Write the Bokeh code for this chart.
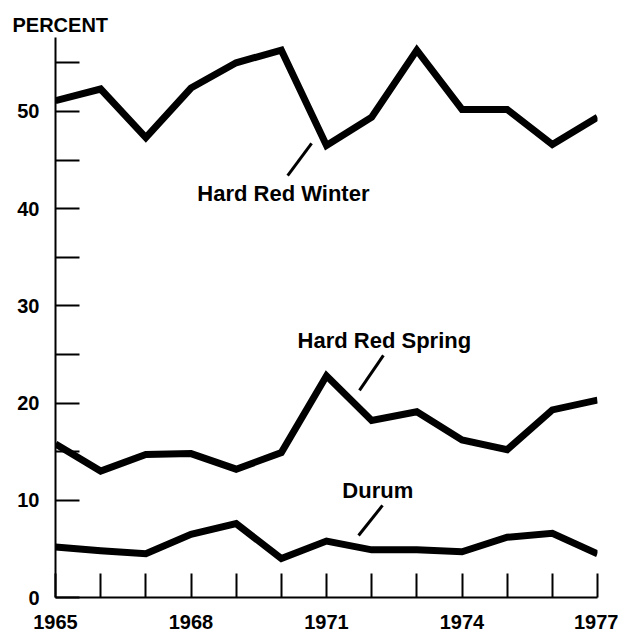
from bokeh.plotting import figure
from bokeh.models import Range1d, FixedTicker, Label
from bokeh.embed import file_html
from bokeh.resources import INLINE

years = list(range(1965, 1978))
hard_red_winter = [51.1, 52.3, 47.3, 52.4, 55.0, 56.3, 46.5, 49.4, 56.3, 50.2, 50.2, 46.6, 49.4]
hard_red_spring = [15.8, 13.0, 14.7, 14.8, 13.2, 14.9, 22.8, 18.2, 19.1, 16.2, 15.2, 19.3, 20.3]
durum = [5.2, 4.8, 4.5, 6.5, 7.6, 4.0, 5.8, 4.9, 4.9, 4.7, 6.2, 6.6, 4.5]

y_ticks = [0, 5, 10, 15, 20, 25, 30, 35, 40, 45, 50, 55]
y_labels = {0: "0", 10: "10", 20: "20", 30: "30", 40: "40", 50: "50"}
x_labels = {1965: "1965", 1968: "1968", 1971: "1971", 1974: "1974", 1977: "1977"}

series_names = ["Hard Red Winter", "Hard Red Spring", "Durum"]
name_pos = [(1968.14, 41.6), (1970.36, 26.4), (1971.35, 11.0)]
leader_from = [(1970.14, 43.4), (1972.26, 24.9), (1972.24, 9.47)]
leader_to = [(1970.67, 46.7), (1971.73, 21.3), (1971.71, 6.38)]

FONT = "Liberation Sans"

p = figure(output_backend="svg", toolbar_location=None,
           x_range=Range1d(1965, 1977), y_range=Range1d(0, 57.6),
           frame_width=542, frame_height=560,
           min_border_left=55, min_border_right=21, min_border_top=37, min_border_bottom=41,
           title="PERCENT")
p.title.align = "left"
p.title.offset = -43
p.title.standoff = 3
p.title.text_font = FONT
p.title.text_font_size = "20px"
p.title.text_font_style = "bold"
p.title.text_color = "black"
p.outline_line_color = None
p.xgrid.visible = False
p.ygrid.visible = False
p.background_fill_color = "white"
p.border_fill_color = "white"

for ax in (p.xaxis[0], p.yaxis[0]):
    ax.axis_line_width = 2
    ax.axis_line_color = "black"
    ax.major_tick_line_width = 2
    ax.major_tick_line_color = "black"
    ax.major_tick_in = 24
    ax.major_tick_out = 0
    ax.minor_tick_line_color = None
    ax.major_label_text_font = FONT
    ax.major_label_text_font_size = "20px"
    ax.major_label_text_font_style = "bold"
    ax.major_label_text_color = "black"

p.yaxis[0].ticker = FixedTicker(ticks=y_ticks)
p.yaxis[0].major_label_overrides = {t: y_labels.get(t, "") for t in y_ticks}
p.yaxis[0].major_label_standoff = 16
p.xaxis[0].ticker = FixedTicker(ticks=years)
p.xaxis[0].major_label_overrides = {t: x_labels.get(t, "") for t in years}
p.xaxis[0].major_label_standoff = 17

for ys in (hard_red_winter, hard_red_spring, durum):
    p.line(years, ys, line_color="black", line_width=7, line_join="miter")

for name, (tx, ty), (fx, fy), (ex, ey) in zip(series_names, name_pos, leader_from, leader_to):
    p.add_layout(Label(x=tx, y=ty, text=name, text_font=FONT, text_font_size="22px",
                       text_font_style="bold",
                       text_baseline="middle", text_align="left", text_color="black"))
    p.line([fx, ex], [fy, ey], line_color="black", line_width=3)

open("out.html", "w").write(file_html(p, INLINE))
